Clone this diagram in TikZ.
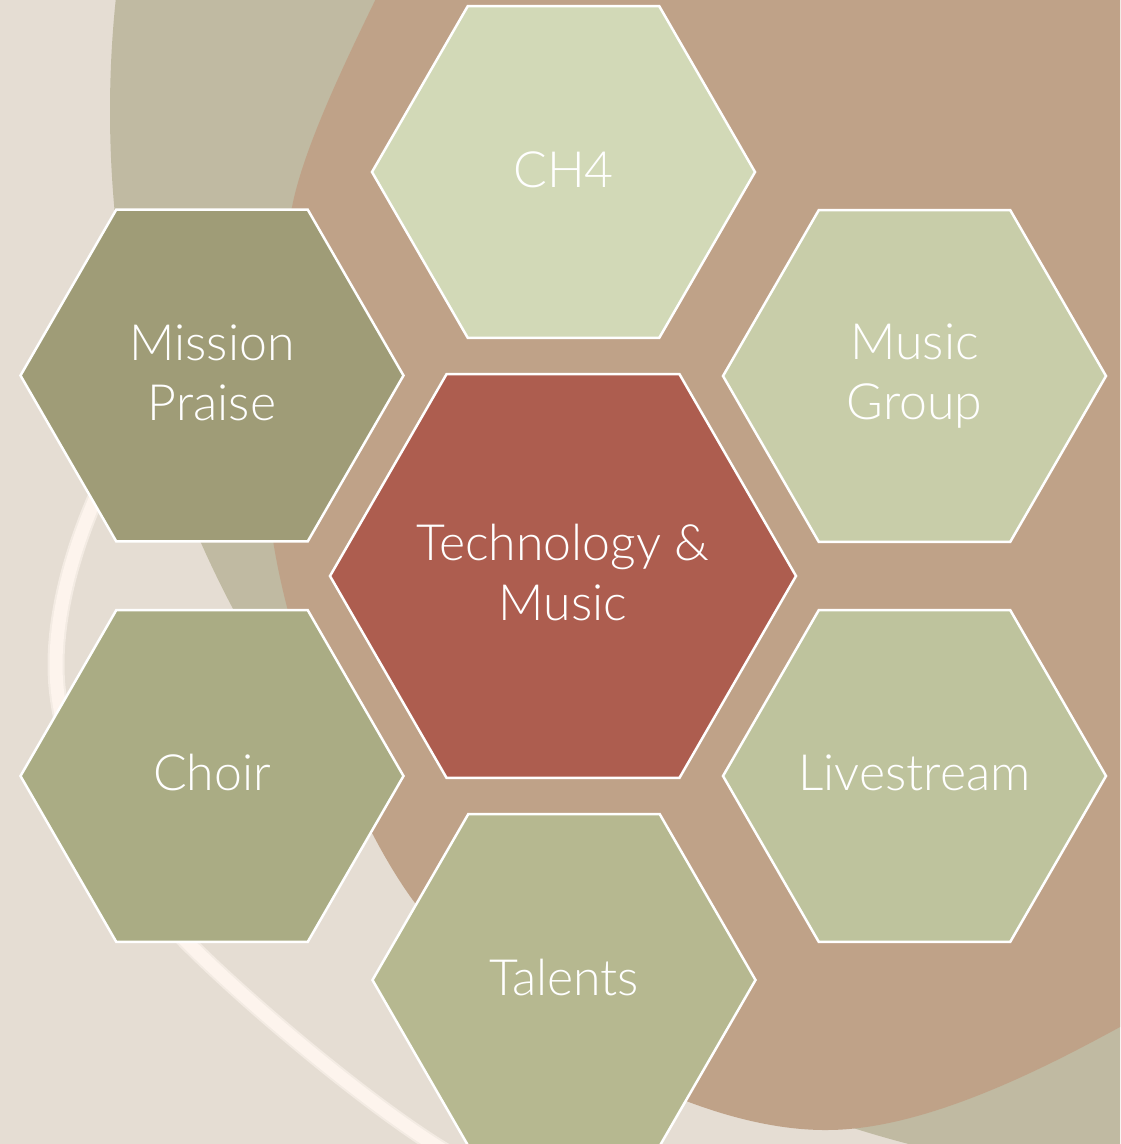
\documentclass[tikz,border=0pt]{standalone}
\usepackage{fontspec}
\setmainfont{Lato}[UprightFont={* Light}]
\definecolor{bgbeige}{HTML}{E5DDD3}
\definecolor{greyc}{HTML}{C0BAA2}
\definecolor{brownc}{HTML}{BFA288}
\definecolor{ringc}{HTML}{FDF4ED}
\definecolor{ringsoft}{HTML}{F3EBE3}
\definecolor{centerc}{HTML}{AD5D4F}
\definecolor{chc}{HTML}{D2D9B7}
\definecolor{mgc}{HTML}{C8CDA9}
\definecolor{mpc}{HTML}{9F9C77}
\definecolor{choirc}{HTML}{AAAC84}
\definecolor{lsc}{HTML}{BEC39D}
\definecolor{talc}{HTML}{B6B890}
\newcommand{\hexshape}[3]{%
  \filldraw[hexline, fill=#3] (#1) ++(0:#2) -- ++(120:#2) -- ++(180:#2) -- ++(240:#2) -- ++(300:#2) -- ++(0:#2) -- cycle;}
\newcommand{\ringpath}{(122,445) .. controls (80,520) and (56,600) .. (56,665) .. controls (56,770) and (130,885) .. (188,943) .. controls (258,1013) and (390,1122) .. (460,1160)}
\begin{document}
\begin{tikzpicture}[x=1pt,y=-1pt,
  hexline/.style={draw=white, line width=2.5pt, line join=miter},
  lbl/.style={text=white, align=center, font=\fontsize{50}{60}\selectfont, inner sep=0pt}]
\useasboundingbox (0,0) rectangle (1120,1144);
\begin{scope}
\clip (0,0) rectangle (1120,1144);
\fill[bgbeige] (0,0) rectangle (1120,1144);
\fill[greyc] (1177,111) circle[radius=1067];
\fill[brownc] (400,-50) .. controls (358,35) and (305,140) .. (292,207)
  .. controls (274,267) and (264,480) .. (273,540)
  .. controls (288,640) and (348,813) .. (415,903)
  .. controls (504,1023) and (690,1131) .. (827,1130)
  .. controls (927,1130) and (1050,1065) .. (1120,1027)
  -- (1250,955) -- (1250,-100) -- (420,-100) -- cycle;
\draw[ringsoft, line width=17pt] \ringpath;
\draw[ringc, line width=13pt] \ringpath;
\coordinate (cCH) at (563.5,172);
\coordinate (cMP) at (212,375.5);
\coordinate (cMG) at (914.5,376);
\coordinate (cCO) at (212,776);
\coordinate (cLS) at (914.5,776);
\coordinate (cTA) at (564,980);
\coordinate (cCE) at (563,576);
\hexshape{cCH}{191.5}{chc}
\hexshape{cMP}{191.5}{mpc}
\hexshape{cMG}{191.5}{mgc}
\hexshape{cCO}{191.5}{choirc}
\hexshape{cLS}{191.5}{lsc}
\hexshape{cTA}{191.5}{talc}
\hexshape{cCE}{233}{centerc}
\end{scope}
\node[lbl] (tCH) at (563.5,170) {CH4};
\node[lbl] (tMP) at (212,373) {Mission\\Praise};
\node[lbl] (tMG) at (914.5,376) {Music\\Group};
\node[lbl] (tCO) at (212,773) {Choir};
\node[lbl] (tLS) at (914.5,773) {Livestream};
\node[lbl] (tTA) at (564,977) {Talents};
\node[lbl] (tCE) at (563,573) {Technology \&\\Music};
\end{tikzpicture}
\end{document}
